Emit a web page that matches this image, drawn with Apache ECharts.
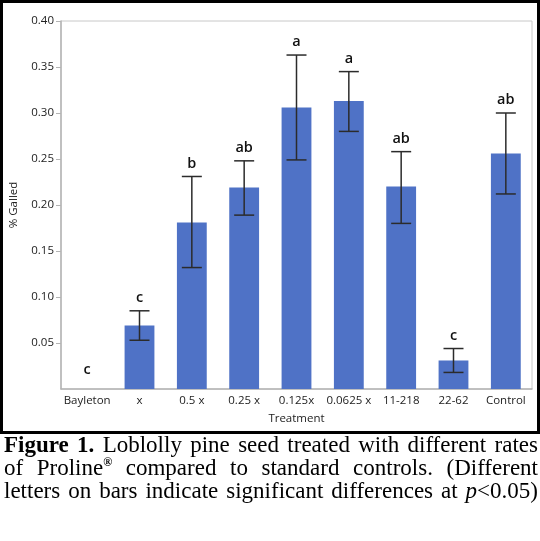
<!DOCTYPE html>
<html>
<head>
    <meta charset="utf-8">
    <title>Loblolly pine galling</title>
    <script src="https://cdn.jsdelivr.net/npm/echarts@6/dist/echarts.min.js"></script>
    <style type="text/css">
        html, body { margin: 0; padding: 0; background: #fff; }
        #chart { position: absolute; left: 0; top: 0; width: 540px; height: 541px; }
        #frame {
            position: absolute; left: 0; top: 0; width: 540px; height: 434px;
            box-sizing: border-box; border: 3px solid #000; pointer-events: none;
        }
        #caption {
            position: absolute; left: 4px; top: 433px; width: 534px;
            font-family: "Liberation Serif", "Times New Roman", serif;
            font-size: 23px; line-height: 23px; color: #000;
        }
        #caption div { text-align: justify; text-align-last: justify; white-space: nowrap; }
        #caption sup { font-size: 12px; font-weight: bold; line-height: 0; }
    </style>
</head>
<body>
<div id="chart"></div>
<div id="frame"></div>
<div id="caption">
    <div><b>Figure 1.</b> Loblolly pine seed treated with different rates</div>
    <div>of Proline<sup>®</sup> compared to standard controls. (Different</div>
    <div>letters on bars indicate significant differences at <i>p</i>&lt;0.05)</div>
</div>

<script>
    // values
    var treatments = ['Bayleton', 'x', '0.5 x', '0.25 x', '0.125x', '0.0625 x', '11-218', '22-62', 'Control'];
    var galled   = [0, 0.069, 0.181, 0.219, 0.306, 0.313, 0.220, 0.031, 0.256];
    var errLow   = [null, 0.053, 0.132, 0.189, 0.249, 0.280, 0.180, 0.018, 0.212];
    var errHigh  = [null, 0.085, 0.231, 0.248, 0.363, 0.345, 0.258, 0.044, 0.300];
    var letters  = ['c', 'c', 'b', 'ab', 'a', 'a', 'ab', 'c', 'ab'];

    var FONT = '"Open Sans", "Noto Sans", sans-serif';

    var errData = [];
    for (var i = 0; i < treatments.length; i++) {
        errData.push([i, errLow[i], errHigh[i], letters[i]]);
    }

    var myChart = echarts.init(document.getElementById('chart'));

    var option = {
        backgroundColor: '#fff',
        animation: false,
        grid: {
            left: 61, right: 8, top: 21, bottom: 152,
            show: true, borderColor: '#c8c8c8', borderWidth: 1
        },
        xAxis: {
            type: 'category',
            data: treatments,
            name: 'Treatment',
            nameLocation: 'middle',
            nameGap: 24,
            nameTextStyle: { fontFamily: FONT, fontSize: 11.5, color: '#222' },
            axisLine: { lineStyle: { color: '#b4b4b4', width: 1.5 } },
            axisTick: { show: false },
            axisLabel: { fontFamily: FONT, fontSize: 11.5, color: '#222', margin: 6, interval: 0 }
        },
        yAxis: {
            type: 'value',
            min: 0, max: 0.4, interval: 0.05,
            name: '% Galled',
            nameLocation: 'middle',
            nameGap: 41,
            nameRotate: 90,
            nameTextStyle: { fontFamily: FONT, fontSize: 11.5, color: '#222' },
            axisLine: { show: true, lineStyle: { color: '#b4b4b4', width: 1.5 } },
            axisTick: { show: true, length: 5, lineStyle: { color: '#b4b4b4' } },
            splitLine: { show: false },
            axisLabel: {
                fontFamily: FONT, fontSize: 11.5, color: '#222', margin: 7,
                showMinLabel: false,
                formatter: function (v) { return v.toFixed(2); }
            }
        },
        series: [
            {
                type: 'bar',
                data: galled,
                barWidth: '57%',
                itemStyle: { color: '#4f72c6' }
            },
            {
                type: 'custom',
                data: errData,
                z: 10,
                renderItem: function (params, api) {
                    var idx = api.value(0);
                    var lo = api.value(1);
                    var hi = api.value(2);
                    var letter = errData[params.dataIndex][3];
                    var children = [];
                    var textY;
                    if (lo == null || isNaN(lo)) {
                        textY = api.coord([idx, 0])[1] - 19;
                    } else {
                        var pLo = api.coord([idx, lo]);
                        var pHi = api.coord([idx, hi]);
                        var half = 10;
                        var st = { stroke: '#2b2b2b', lineWidth: 1.5 };
                        children.push({ type: 'line', shape: { x1: pHi[0], y1: pHi[1], x2: pLo[0], y2: pLo[1] }, style: st });
                        children.push({ type: 'line', shape: { x1: pHi[0] - half, y1: pHi[1], x2: pHi[0] + half, y2: pHi[1] }, style: st });
                        children.push({ type: 'line', shape: { x1: pLo[0] - half, y1: pLo[1], x2: pLo[0] + half, y2: pLo[1] }, style: st });
                        textY = pHi[1] - 13;
                    }
                    var x0 = api.coord([idx, 0])[0];
                    children.push({
                        type: 'text',
                        style: {
                            x: x0, y: textY, text: letter,
                            align: 'center', verticalAlign: 'middle',
                            fontFamily: FONT, fontSize: 14.5, fontWeight: 600, fill: '#111'
                        }
                    });
                    return { type: 'group', children: children };
                }
            }
        ]
    };

    myChart.setOption(option);
</script>
</body>
</html>
